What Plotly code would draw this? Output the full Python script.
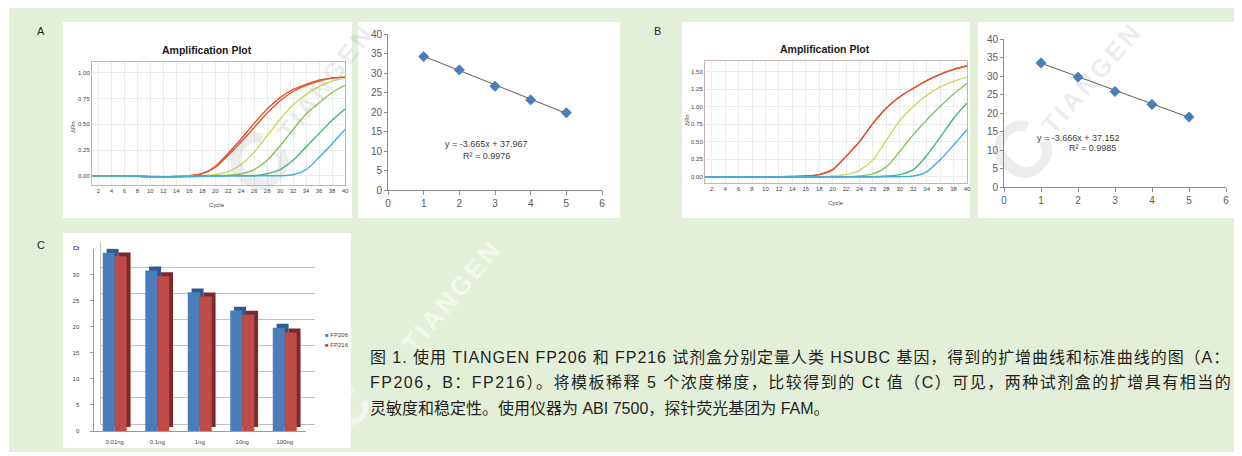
import plotly.graph_objects as go

# the page body keeps its default 8px margin, so the figure is drawn 8px smaller
# and every pixel position below is moved by that offset
OFF = 8
W, H = 1242 - OFF, 456 - OFF

# amplification curves (cycle vs delta Rn)
cycles = [1, 4, 8, 12, 16, 18, 20, 22, 24, 26, 28, 30, 32, 34, 36, 38, 40]

a_red1 = [0, 0, -0.005, -0.01, 0, 0.02, 0.08, 0.2, 0.33, 0.47, 0.61, 0.73, 0.82, 0.88, 0.92, 0.95, 0.96]
a_red2 = [0, 0, -0.005, -0.01, 0, 0.02, 0.09, 0.22, 0.36, 0.51, 0.65, 0.76, 0.84, 0.89, 0.93, 0.95, 0.96]
a_yellow = [0, 0, -0.005, -0.01, 0, 0, 0.01, 0.04, 0.11, 0.23, 0.39, 0.55, 0.69, 0.79, 0.87, 0.92, 0.95]
a_green = [0, 0, -0.005, -0.01, 0, 0, 0, 0.005, 0.02, 0.06, 0.15, 0.29, 0.45, 0.6, 0.71, 0.81, 0.88]
a_teal = [0, 0, -0.005, -0.01, -0.005, 0, 0, 0, 0, 0, 0.02, 0.06, 0.15, 0.28, 0.41, 0.54, 0.65]
a_blue = [0, 0, -0.005, -0.01, -0.01, -0.005, -0.005, 0, 0, 0, 0, 0, 0.01, 0.06, 0.18, 0.31, 0.45]

b_red = [0, 0, 0, 0, 0.01, 0.03, 0.1, 0.29, 0.5, 0.76, 0.98, 1.14, 1.26, 1.37, 1.46, 1.53, 1.58]
b_yellow = [0, 0, 0, 0, 0, 0, 0.01, 0.03, 0.09, 0.24, 0.52, 0.8, 1.0, 1.16, 1.28, 1.36, 1.42]
b_green = [0, 0, 0, 0, 0, 0, 0, 0, 0.01, 0.04, 0.14, 0.36, 0.6, 0.81, 1.0, 1.18, 1.33]
b_teal = [0, 0, 0, 0, 0, 0, 0, 0, 0, 0, 0.01, 0.03, 0.1, 0.3, 0.56, 0.83, 1.05]
b_blue = [0, 0, 0, 0, 0, 0, 0, 0, 0, 0, 0, 0, 0.01, 0.07, 0.24, 0.45, 0.67]

curve_colors = ["#e4532c", "#e4532c", "#cbd85a", "#86c455", "#46b67c", "#45a9df"]

# standard curves
dilution = [1, 2, 3, 4, 5]
ct_fp206 = [34.2, 30.8, 26.6, 23.1, 19.8]
ct_fp216 = [33.5, 29.7, 25.8, 22.3, 18.9]
fit_a = (-3.665, 37.967, 0.9976)
fit_b = (-3.666, 37.152, 0.9985)

# bar chart C
amounts = ["0.01ng", "0.1ng", "1ng", "10ng", "100ng"]


def xd(x0, x1):
    return [(x0 - OFF) / W, (x1 - OFF) / W]


def yd(top, bottom):
    return [1 - (bottom - OFF) / H, 1 - (top - OFF) / H]


fig = go.Figure()

# amplification plots
for ys, xa, ya in [([a_red1, a_red2, a_yellow, a_green, a_teal, a_blue], "x", "y"),
                   ([b_red, b_red, b_yellow, b_green, b_teal, b_blue], "x3", "y3")]:
    for v, c in zip(ys, curve_colors):
        fig.add_trace(go.Scatter(x=cycles, y=v, mode="lines", xaxis=xa, yaxis=ya,
                                 line=dict(color=c, width=1.4, shape="spline", smoothing=0.8),
                                 showlegend=False, hoverinfo="skip"))

# standard curves
for ct, fit, xa, ya in [(ct_fp206, fit_a, "x2", "y2"), (ct_fp216, fit_b, "x4", "y4")]:
    tx = [dilution[0], dilution[-1]]
    fig.add_trace(go.Scatter(x=tx, y=[fit[0] * t + fit[1] for t in tx], mode="lines",
                             xaxis=xa, yaxis=ya, line=dict(color="#6b5a50", width=1),
                             showlegend=False))
    fig.add_trace(go.Scatter(x=dilution, y=ct, mode="markers", xaxis=xa, yaxis=ya,
                             marker=dict(symbol="diamond", size=8, color="#4a7dbb",
                                         line=dict(color="#3a6aa5", width=0.5)),
                             showlegend=False))

# bar chart: back wall on x5/y5, bars on x6/y6 (dark extrusion behind each front face)
fig.add_trace(go.Scatter(x=amounts, y=[None] * len(amounts), xaxis="x5", yaxis="y5",
                         mode="markers", showlegend=False))
bw = 0.282      # bar width in category units (~12 px)
dx, dy = 0.09, 0.75   # extrusion shift (~4 px right, ~4 px up)
for ct, dark, off in [(ct_fp206, "#2f5b8f", -bw), (ct_fp216, "#7a2a28", 0)]:
    fig.add_trace(go.Bar(x=amounts, y=ct, base=dy, offset=off + dx, width=bw,
                         xaxis="x6", yaxis="y6", marker_color=dark,
                         marker_line_width=0, showlegend=False))
for ct, front, off, name in [(ct_fp206, "#4a7ebb", -bw, "FP206"), (ct_fp216, "#be4b48", 0, "FP216")]:
    fig.add_trace(go.Bar(x=amounts, y=ct, offset=off, width=bw, xaxis="x6", yaxis="y6",
                         marker_color=front, marker_line_width=0, name=name, showlegend=False))

tiny = dict(family="Liberation Sans", size=6, color="#444444")
amp_x = dict(range=[1, 40], tickmode="linear", tick0=2, dtick=2, showgrid=True,
             gridcolor="#ebebeb", zeroline=False, showline=True, mirror=True,
             linecolor="#c4b4b0", tickfont=tiny, ticks="", automargin=False)
amp_y = dict(showgrid=True, gridcolor="#ebebeb", zeroline=False, showline=True, mirror=True,
             linecolor="#c4b4b0", tickfont=tiny, tickformat=".2f", tickmode="linear",
             tick0=0, dtick=0.25, ticks="", automargin=False)
std_font = dict(family="Liberation Sans", size=10, color="#5a5a5a")
std_x = dict(range=[0, 6], dtick=1, showgrid=False, zeroline=False, showline=True,
             linecolor="#8a8a8a", ticks="outside", ticklen=4, tickcolor="#8a8a8a",
             tickfont=std_font, automargin=False)
std_y = dict(range=[0, 40], dtick=5, showgrid=False, zeroline=False, showline=True,
             linecolor="#8a8a8a", ticks="outside", ticklen=3, tickcolor="#8a8a8a",
             tickfont=std_font, automargin=False)

fig.update_layout(
    template="none",
    width=W, height=H, margin=dict(l=0, r=0, t=0, b=0, autoexpand=False),
    paper_bgcolor="white", plot_bgcolor="rgba(0,0,0,0)", showlegend=False,
    barmode="overlay",
    xaxis=dict(amp_x, domain=xd(92, 345), anchor="y"),
    yaxis=dict(amp_y, domain=yd(62, 185), range=[-0.09, 1.107], anchor="x"),
    xaxis3=dict(amp_x, domain=xd(705, 967), anchor="y3"),
    yaxis3=dict(amp_y, domain=yd(61, 183), range=[-0.09, 1.65], anchor="x3"),
    xaxis2=dict(std_x, domain=xd(388, 602), anchor="y2"),
    yaxis2=dict(std_y, domain=yd(34, 190), anchor="x2"),
    xaxis4=dict(std_x, domain=xd(1004, 1226), anchor="y4"),
    yaxis4=dict(std_y, domain=yd(39, 187), anchor="x4"),
    xaxis5=dict(domain=xd(101, 315), anchor="y5", range=[-0.5, 4.5], showticklabels=False,
                showgrid=False, zeroline=False, showline=True, linecolor="#c9bdb8", automargin=False),
    yaxis5=dict(domain=yd(241.5, 424), anchor="x5", range=[0, 35], dtick=5,
                showticklabels=False, showgrid=True, gridcolor="#cdbfb9", gridwidth=1,
                zeroline=False, showline=True, linecolor="#c9bdb8", automargin=False),
    xaxis6=dict(domain=xd(93.5, 306), anchor="y6", range=[-0.5, 4.5], showgrid=False, zeroline=False,
                showline=True, linecolor="#9a9a9a", ticks="", tickfont=tiny,
                ticklabelstandoff=5, automargin=False),
    yaxis6=dict(domain=yd(248.5, 431), anchor="x6", range=[0, 35], tickvals=[0, 5, 10, 15, 20, 25, 30],
                showgrid=False, zeroline=False, showline=True, linecolor="#9a9a9a",
                ticks="outside", ticklen=3, tickcolor="#9a9a9a", tickfont=tiny,
                ticklabelstandoff=9, automargin=False),
)

shapes = [dict(type="rect", xref="paper", yref="paper", x0=(9 - OFF) / W, x1=1,
               y0=1 - (452 - OFF) / H, y1=1, fillcolor="#e3efd9", line_width=0, layer="below")]
for x0, x1, y0, y1 in [(63, 352, 22, 218), (358, 620, 22, 218), (682, 970, 22, 218),
                       (978, 1236, 22, 218), (63, 351, 233, 448)]:
    shapes.append(dict(type="rect", xref="paper", yref="paper", x0=(x0 - OFF) / W, x1=(x1 - OFF) / W,
                       y0=1 - (y1 - OFF) / H, y1=1 - (y0 - OFF) / H,
                       fillcolor="white", line_width=0, layer="below"))
fig.update_layout(shapes=shapes)


def ann(x, y, text, size=11, color="#222222", family="Liberation Sans", xanchor="center", **kw):
    fig.add_annotation(x=(x - OFF) / W, y=1 - (y - OFF) / H, xref="paper", yref="paper", text=text,
                       xanchor=xanchor, yanchor="middle", showarrow=False,
                       font=dict(family=family, size=size, color=color), **kw)


# faint TIANGEN watermarks (word + crescent logo)
for wx, wy, cx, cy, ang, col, csize in [(326, 82, 258, 162, -52, "rgba(140,140,140,0.16)", 80),
                                        (1092, 78, 1022, 150, -49, "rgba(140,140,140,0.16)", 80),
                                        (452, 296, 350, 408, -50, "rgba(255,255,255,0.55)", 50)]:
    ann(wx, wy, "<b><span style='letter-spacing:3px'>TIANGEN</span></b>", size=26, color=col,
        textangle=ang)
    ann(cx, cy, "<b>C</b>", size=csize, color=col, textangle=ang)

ann(41, 31, "A")
ann(657, 31, "B")
ann(41, 245, "C")

ann(207, 50, "<b>Amplification Plot</b>", size=10.5, color="#1a1a1a")
ann(825, 49, "<b>Amplification Plot</b>", size=10.5, color="#1a1a1a")
ann(73, 127, "ΔRn", size=6, color="#444444", textangle=-90)
ann(687, 120, "ΔRn", size=6, color="#444444", textangle=-90)
ann(217, 205, "Cycle", size=6, color="#444444")
ann(836, 203, "Cycle", size=6, color="#444444")

for fit, xa, ya, ex, ey, rx, ry in [(fit_a, "x2", "y2", 2.76, 11.8, 2.76, 8.7),
                                    (fit_b, "x4", "y4", 2.0, 13.2, 2.4, 10.5)]:
    fig.add_annotation(x=ex, y=ey, xref=xa, yref=ya, showarrow=False, xanchor="center",
                       text="y = %.3fx + %.3f" % (fit[0], fit[1]),
                       font=dict(family="Liberation Sans", size=9, color="#404040"))
    fig.add_annotation(x=rx, y=ry, xref=xa, yref=ya, showarrow=False, xanchor="center",
                       text="R² = %.4f" % fit[2],
                       font=dict(family="Liberation Sans", size=9, color="#404040"))

# bar chart extras
fig.add_annotation(x=-0.5, y=35, xref="x6", yref="y6", xanchor="right", xshift=-12, showarrow=False,
                   text="<b>Ct</b>", font=dict(family="Liberation Sans", size=6, color="#333333"))
ann(323, 335, "<span style='color:#4a7ebb'>■</span> FP206", size=6, color="#444444", xanchor="left")
ann(323, 345, "<span style='color:#be4b48'>■</span> FP216", size=6, color="#444444", xanchor="left")

# caption (first two lines are justified in the original)
cap = "Liberation Sans, Noto Sans CJK SC"
lines = ["<span style='letter-spacing:0.95px'>图 1. 使用 TIANGEN FP206 和 FP216 试剂盒分别定量人类 HSUBC 基因，得到的扩增曲线和标准曲线的图（A：</span>",
         "<span style='letter-spacing:1.5px'>FP206，B：FP216）。将模板稀释 5 个浓度梯度，比较得到的 Ct 值（C）可见，两种试剂盒的扩增具有相当的</span>",
         "灵敏度和稳定性。使用仪器为 ABI 7500，探针荧光基团为 FAM。"]
for i, t in enumerate(lines):
    ann(368, 357 + 25.5 * i, t, size=16, family=cap, color="#231f20", xanchor="left")

fig.write_html("out.html")
